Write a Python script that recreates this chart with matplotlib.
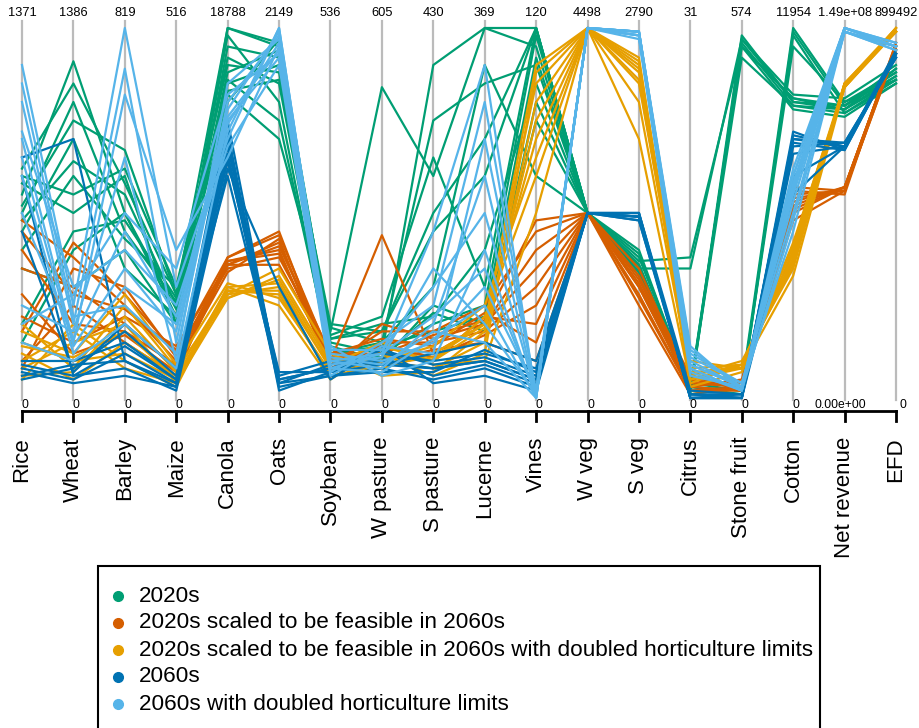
import matplotlib
matplotlib.use("Agg")
import matplotlib.pyplot as plt
from matplotlib.lines import Line2D
from matplotlib.patches import Rectangle

plt.rcParams['font.family'] = ['Liberation Sans', 'DejaVu Sans']

axis_names = ["Rice", "Wheat", "Barley", "Maize", "Canola", "Oats", "Soybean",
              "W pasture", "S pasture", "Lucerne", "Vines", "W veg", "S veg",
              "Citrus", "Stone fruit", "Cotton", "Net revenue", "EFD"]
max_labels = ["1371", "1386", "819", "516", "18788", "2149", "536", "605", "430",
              "369", "120", "4498", "2790", "31", "574", "11954", "1.49e+08", "899492"]
min_labels = ["0"] * 16 + ["0.00e+00", "0"]

group_names = ["2020s", "2020s scaled to be feasible in 2060s",
               "2020s scaled to be feasible in 2060s with doubled horticulture limits",
               "2060s", "2060s with doubled horticulture limits"]
group_colors = ["#009E73", "#D55E00", "#E69F00", "#0072B2", "#56B4E9"]

# values as percent of each axis' range (0 = min, 100 = max)
green_lines = [
    [55, 91, 50, 22, 100, 95, 15, 12, 90, 100, 100, 50, 35, 2, 98, 80, 78, 87],
    [52, 75, 67, 28, 83, 86, 18, 84, 60, 100, 95, 50, 38, 3, 95, 81, 79, 88],
    [48, 64, 55, 25, 80, 97, 12, 15, 75, 85, 90, 50, 36, 1, 3, 100, 80, 86],
    [40, 60, 43, 30, 90, 88, 20, 18, 45, 60, 100, 50, 34, 4, 2, 98, 77, 85],
    [58, 50, 60, 20, 95, 92, 14, 10, 25, 20, 75, 50, 40, 2, 92, 79, 78, 89],
    [20, 45, 48, 27, 85, 90, 16, 20, 22, 40, 85, 50, 33, 1, 97, 82, 81, 90],
    [45, 70, 35, 22, 98, 80, 10, 12, 20, 25, 98, 50, 37, 38, 95, 78, 76, 85],
    [60, 55, 62, 30, 82, 70, 19, 15, 30, 90, 60, 50, 35, 35, 97, 80, 79, 87],
    [15, 40, 50, 24, 88, 94, 17, 22, 65, 30, 100, 50, 36, 3, 2, 95, 80, 88],
    [50, 80, 45, 26, 92, 85, 13, 11, 23, 18, 80, 50, 34, 2, 95, 81, 78, 86],
    [35, 30, 40, 20, 86, 75, 12, 14, 18, 22, 92, 50, 36, 2, 96, 79, 77, 86],
    [62, 85, 58, 28, 100, 96, 16, 18, 50, 70, 100, 50, 39, 3, 1, 99, 79, 89],
]
vermillion_lines = [
    [48, 38, 25, 10, 36, 42, 10, 44, 12, 20, 40, 50, 30, 3, 2, 52, 57, 95],
    [35, 30, 20, 8, 37, 40, 8, 15, 15, 18, 30, 50, 32, 5, 3, 55, 56, 96],
    [18, 42, 28, 12, 35, 38, 12, 12, 10, 22, 20, 50, 28, 2, 2, 50, 57, 95],
    [10, 25, 15, 6, 38, 45, 9, 18, 18, 25, 45, 50, 35, 4, 4, 48, 56, 94],
    [22, 15, 22, 14, 36, 36, 11, 10, 13, 15, 10, 50, 25, 1, 3, 53, 57, 95],
    [40, 20, 18, 9, 34, 43, 7, 20, 16, 20, 35, 50, 33, 6, 2, 56, 55, 96],
    [8, 35, 30, 11, 37, 39, 10, 14, 11, 17, 25, 50, 30, 3, 5, 51, 57, 95],
    [28, 12, 17, 7, 36, 41, 12, 16, 14, 23, 15, 50, 27, 2, 3, 54, 56, 94],
    [45, 28, 24, 13, 38, 44, 11, 12, 17, 21, 48, 50, 31, 4, 3, 57, 56, 95],
]
orange_lines = [
    [15, 10, 12, 5, 28, 30, 8, 10, 8, 15, 80, 100, 90, 5, 8, 38, 84, 99],
    [8, 15, 20, 4, 29, 28, 6, 8, 12, 20, 70, 100, 85, 8, 9, 36, 85, 100],
    [20, 8, 25, 8, 27, 33, 10, 12, 6, 12, 88, 100, 92, 3, 7, 40, 84, 99],
    [5, 20, 10, 3, 30, 25, 5, 14, 10, 22, 60, 100, 80, 6, 10, 35, 85, 99],
    [12, 5, 15, 6, 28, 35, 12, 6, 7, 18, 75, 100, 88, 10, 8, 42, 84, 100],
    [18, 12, 28, 9, 31, 27, 7, 10, 14, 25, 65, 100, 70, 4, 9, 37, 85, 99],
    [10, 18, 8, 4, 27, 32, 9, 15, 9, 10, 50, 100, 86, 7, 8, 33, 84, 100],
    [6, 7, 22, 7, 29, 29, 6, 9, 11, 20, 85, 100, 89, 5, 9, 39, 85, 99],
    [14, 11, 18, 5, 30, 31, 8, 11, 10, 19, 90, 100, 91, 6, 9, 41, 85, 99],
]
blue_lines = [
    [8, 5, 12, 4, 70, 5, 8, 10, 8, 10, 5, 50, 49, 1, 0, 70, 68, 93],
    [65, 70, 10, 3, 65, 3, 6, 8, 5, 8, 3, 50, 50, 0, 0, 71, 68, 92],
    [5, 8, 18, 6, 75, 4, 9, 12, 10, 12, 8, 50, 48, 1, 1, 69, 67, 93],
    [60, 6, 8, 2, 62, 30, 5, 14, 4, 6, 2, 50, 49, 0, 0, 55, 68, 94],
    [10, 10, 15, 5, 68, 6, 10, 9, 12, 15, 10, 50, 50, 2, 1, 68, 69, 92],
    [7, 4, 6, 3, 72, 2, 7, 11, 6, 9, 4, 50, 48, 0, 0, 72, 67, 93],
    [45, 7, 20, 8, 60, 5, 8, 13, 9, 11, 6, 50, 49, 1, 0, 60, 68, 93],
    [6, 9, 10, 4, 66, 4, 6, 7, 7, 13, 7, 50, 50, 0, 1, 70, 69, 92],
    [9, 6, 14, 5, 64, 7, 7, 9, 8, 10, 5, 50, 49, 0, 0, 66, 68, 93],
]
sky_lines = [
    [90, 25, 100, 30, 70, 100, 10, 8, 20, 60, 1, 100, 99, 10, 3, 55, 99, 95],
    [80, 20, 89, 15, 80, 98, 8, 12, 45, 90, 0, 100, 98, 8, 2, 60, 100, 95],
    [70, 15, 82, 40, 65, 95, 12, 10, 15, 30, 2, 100, 99, 12, 4, 50, 99, 94],
    [60, 12, 30, 20, 75, 92, 7, 15, 25, 80, 1, 100, 97, 6, 3, 62, 100, 96],
    [25, 18, 65, 10, 85, 97, 14, 6, 10, 40, 0, 100, 99, 14, 2, 48, 99, 95],
    [15, 10, 20, 8, 72, 100, 9, 11, 35, 20, 1, 100, 98, 9, 3, 57, 100, 95],
    [72, 30, 40, 25, 68, 90, 6, 14, 12, 70, 2, 100, 99, 11, 4, 53, 99, 94],
    [85, 22, 25, 12, 78, 99, 11, 9, 18, 15, 0, 100, 98, 7, 2, 58, 100, 96],
    [20, 28, 50, 35, 82, 93, 13, 13, 30, 50, 1, 100, 99, 13, 3, 45, 99, 95],
    [65, 14, 35, 18, 74, 96, 8, 7, 16, 25, 0, 100, 98, 8, 2, 60, 100, 95],
    [50, 16, 45, 22, 76, 94, 10, 12, 22, 35, 1, 100, 99, 9, 3, 56, 100, 95],
]
groups = [green_lines, vermillion_lines, orange_lines, blue_lines, sky_lines]

W, H = 919, 728
fig = plt.figure(figsize=(W / 100, H / 100), dpi=100)

def fx(px):
    return px / W

def fy(py):
    return 1 - py / H

x_left, x_right = 22, 896
y_top, y_bot = 28, 398
ax = fig.add_axes([fx(x_left), fy(y_bot), fx(x_right) - fx(x_left), fy(y_top) - fy(y_bot)])
n = len(axis_names)
ax.set_xlim(0, n - 1)
ax.set_ylim(0, 1)
ax.axis("off")

# vertical axes
for i in range(n):
    ax.plot([i, i], [-0.005, 1.02], color="#BBBBBB", lw=1.6, zorder=1, clip_on=False)

xs = list(range(n))
for lines, col in zip(groups, group_colors):
    for vals in lines:
        ax.plot(xs, [v / 100 for v in vals], color=col, lw=1.6, zorder=2,
                clip_on=False, solid_joinstyle="round")

# labels
min_offsets = [3] * 16 + [-4, 7]
for i in range(n):
    xp = x_left + i * (x_right - x_left) / (n - 1)
    fig.text(fx(xp), fy(13), max_labels[i], fontsize=9.3, ha="center", va="center")
    fig.text(fx(xp + min_offsets[i]), fy(405), min_labels[i], fontsize=8.7,
             ha="center", va="center")
    fig.text(fx(xp), fy(437), axis_names[i], fontsize=16, rotation=90,
             ha="center", va="top")
    fig.add_artist(Line2D([fx(xp), fx(xp)], [fy(411), fy(421)], color="black", lw=2))

fig.add_artist(Line2D([fx(x_left), fx(x_right)], [fy(411), fy(411)], color="black", lw=2))

# legend box
fig.add_artist(Rectangle((fx(98), fy(760)), fx(820) - fx(98), fy(566) - fy(760),
                         fill=False, edgecolor="black", lw=1.5, transform=fig.transFigure))
for k, (name, col) in enumerate(zip(group_names, group_colors)):
    yy = 596 + k * 27
    fig.add_artist(Line2D([fx(118)], [fy(yy)], marker="o", markersize=7,
                          color=col, linestyle="none"))
    fig.text(fx(139), fy(yy), name, fontsize=16.2, ha="left", va="center")

fig.savefig("out.png", dpi=100)
